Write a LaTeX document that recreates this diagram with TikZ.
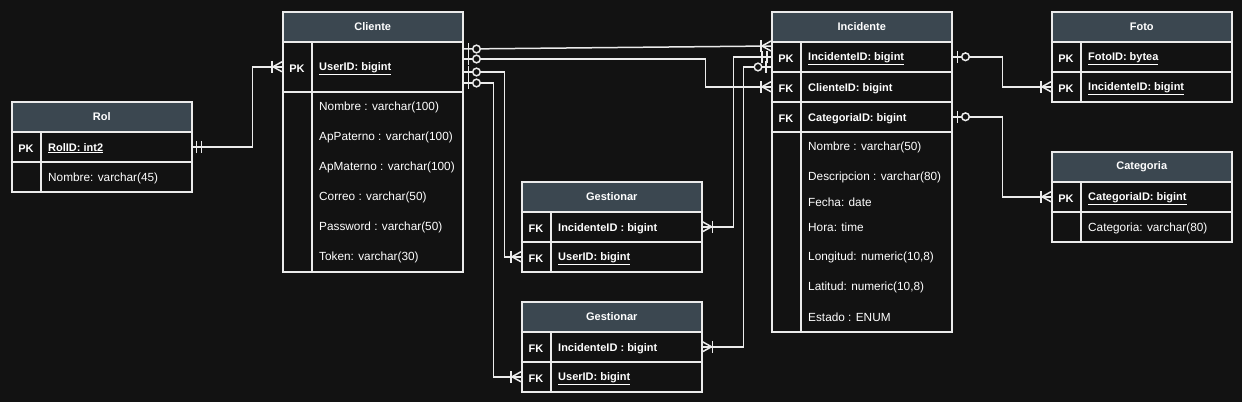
\documentclass[tikz,border=0pt]{standalone}
\usepackage{fontspec}
\setmainfont{Liberation Sans}
\definecolor{bgc}{RGB}{18,18,18}
\definecolor{hdrc}{RGB}{59,71,80}
\definecolor{linec}{RGB}{235,235,235}
\begin{document}
\begin{tikzpicture}[x=1pt,y=-1pt, font=\fontsize{11}{13}\selectfont,
 hdr/.style={draw=linec, fill=hdrc, line width=1.5pt, minimum width=180pt, minimum height=30pt, anchor=north west, inner sep=0pt, font=\fontsize{11}{13}\selectfont\bfseries, text=white},
 rowbox/.style={draw=linec, fill=bgc, line width=1.5pt, minimum width=180pt, minimum height=#1, anchor=north west, inner sep=0pt},
 rowbox/.default=30pt,
 keyt/.style={text=white, font=\fontsize{11}{13}\selectfont\bfseries, inner sep=0pt, yshift=-1.5pt},
 attr/.style={text=white, anchor=west, inner sep=0pt, font=\fontsize{11.8}{13}\selectfont, yshift=-1.5pt},
 battr/.style={attr, font=\fontsize{11}{13}\selectfont\bfseries},
 divl/.style={draw=linec, line width=1.5pt},
 conn/.style={draw=linec, line width=1.5pt},
 mk/.style={draw=linec, line width=1.5pt},
 crow/.pic={\draw[mk] (0,-5)--(9,0)--(0,5); \draw[mk] (10,-6)--(10,6);},
 mone/.pic={\draw[mk] (4,-6)--(4,6); \draw[mk] (9,-6)--(9,6);},
 zone/.pic={\draw[mk] (5,-6)--(5,6); \draw[mk, fill=bgc] (13,0) circle (3.8pt);}
]
\fill[bgc] (0,0) rectangle (1242,402);
\useasboundingbox (0,0) rectangle (1242,402);

% ---------- Rol ----------
\node[hdr] (rolH) at (11,101) {Rol};
\node[rowbox] (rolPK) at (11,131) {};
\node[rowbox] (rolA) at (11,161) {};
\draw[divl] ([xshift=30pt]rolPK.north west) -- ([xshift=30pt]rolA.south west);
\node[keyt] (rolk1) at ([xshift=15pt]rolPK.west) {PK};
\node[battr] (rolt1) at ([xshift=37pt]rolPK.west) {\underline{RolID: int2}};
\node[attr] (rolt2) at ([xshift=37pt]rolA.west) {Nombre: varchar(45)};

% ---------- Cliente ----------
\node[hdr] (cliH) at (282,11) {Cliente};
\node[rowbox=50pt] (cliPK) at (282,41) {};
\node[rowbox=180pt] (cliA) at (282,91) {};
\draw[divl] ([xshift=30pt]cliPK.north west) -- ([xshift=30pt]cliA.south west);
\node[keyt] (clik1) at ([xshift=15pt]cliPK.west) {PK};
\node[battr] (clit1) at ([xshift=37pt]cliPK.west) {\underline{UserID: bigint}};
\node[attr] (clit2) at (319,106) {Nombre : varchar(100)};
\node[attr] (clit3) at (319,136) {ApPaterno : varchar(100)};
\node[attr] (clit4) at (319,166) {ApMaterno : varchar(100)};
\node[attr] (clit5) at (319,196) {Correo : varchar(50)};
\node[attr] (clit6) at (319,226) {Password : varchar(50)};
\node[attr] (clit7) at (319,256) {Token: varchar(30)};

% ---------- Gestionar 1 ----------
\node[hdr] (g1H) at (521,181) {Gestionar};
\node[rowbox] (g1I) at (521,211) {};
\node[rowbox] (g1U) at (521,241) {};
\draw[divl] ([xshift=30pt]g1I.north west) -- ([xshift=30pt]g1U.south west);
\node[keyt] (g1k1) at ([xshift=15pt]g1I.west) {FK};
\node[keyt] (g1k2) at ([xshift=15pt]g1U.west) {FK};
\node[battr] (g1t1) at ([xshift=37pt]g1I.west) {IncidenteID : bigint};
\node[battr] (g1t2) at ([xshift=37pt]g1U.west) {\underline{UserID: bigint}};

% ---------- Gestionar 2 ----------
\node[hdr] (g2H) at (521,301) {Gestionar};
\node[rowbox] (g2I) at (521,331) {};
\node[rowbox] (g2U) at (521,361) {};
\draw[divl] ([xshift=30pt]g2I.north west) -- ([xshift=30pt]g2U.south west);
\node[keyt] (g2k1) at ([xshift=15pt]g2I.west) {FK};
\node[keyt] (g2k2) at ([xshift=15pt]g2U.west) {FK};
\node[battr] (g2t1) at ([xshift=37pt]g2I.west) {IncidenteID : bigint};
\node[battr] (g2t2) at ([xshift=37pt]g2U.west) {\underline{UserID: bigint}};

% ---------- Incidente ----------
\node[hdr] (incH) at (771,11) {Incidente};
\node[rowbox] (incPK) at (771,41) {};
\node[rowbox] (incFK1) at (771,71) {};
\node[rowbox] (incFK2) at (771,101) {};
\node[rowbox=200pt] (incA) at (771,131) {};
\draw[divl] ([xshift=30pt]incPK.north west) -- ([xshift=30pt]incA.south west);
\node[keyt] (inck1) at ([xshift=15pt]incPK.west) {PK};
\node[keyt] (inck2) at ([xshift=15pt]incFK1.west) {FK};
\node[keyt] (inck3) at ([xshift=15pt]incFK2.west) {FK};
\node[battr] (inct1) at ([xshift=37pt]incPK.west) {\underline{IncidenteID: bigint}};
\node[battr] (inct2) at ([xshift=37pt]incFK1.west) {ClienteID: bigint};
\node[battr] (inct3) at ([xshift=37pt]incFK2.west) {CategoriaID: bigint};
\node[attr] (inct4) at (808,146) {Nombre : varchar(50)};
\node[attr] (inct5) at (808,176) {Descripcion : varchar(80)};
\node[attr] (inct6) at (808,201) {Fecha: date};
\node[attr] (inct7) at (808,226) {Hora: time};
\node[attr] (inct8) at (808,256) {Longitud: numeric(10,8)};
\node[attr] (inct9) at (808,286) {Latitud: numeric(10,8)};
\node[attr] (inct10) at (808,316) {Estado : ENUM};

% ---------- Foto ----------
\node[hdr] (fotoH) at (1051,11) {Foto};
\node[rowbox] (fotoPK) at (1051,41) {};
\node[rowbox] (fotoI) at (1051,71) {};
\draw[divl] ([xshift=30pt]fotoPK.north west) -- ([xshift=30pt]fotoI.south west);
\node[keyt] (fotok1) at ([xshift=15pt]fotoPK.west) {PK};
\node[keyt] (fotok2) at ([xshift=15pt]fotoI.west) {PK};
\node[battr] (fotot1) at ([xshift=37pt]fotoPK.west) {\underline{FotoID: bytea}};
\node[battr] (fotot2) at ([xshift=37pt]fotoI.west) {\underline{IncidenteID: bigint}};

% ---------- Categoria ----------
\node[hdr] (catH) at (1051,151) {Categoria};
\node[rowbox] (catPK) at (1051,181) {};
\node[rowbox] (catA) at (1051,211) {};
\draw[divl] ([xshift=30pt]catPK.north west) -- ([xshift=30pt]catA.south west);
\node[keyt] (catk1) at ([xshift=15pt]catPK.west) {PK};
\node[battr] (catt1) at ([xshift=37pt]catPK.west) {\underline{CategoriaID: bigint}};
\node[attr] (catt2) at ([xshift=37pt]catA.west) {Categoria: varchar(80)};

% ---------- Connectors ----------
% Rol -> Cliente
\draw[conn] (rolPK.east) -- ++(60,0) |- (cliPK.west);
\pic at (rolPK.east) {mone};
\pic[xscale=-1] at (cliPK.west) {crow};

% Cliente -> Incidente (PK row)
\draw[conn] ([yshift=-8pt]cliPK.north east) -- ([yshift=-5pt]incPK.north west);
\pic at ([yshift=-8pt]cliPK.north east) {zone};
\pic[xscale=-1] at ([yshift=-5pt]incPK.north west) {crow};

% Cliente -> Incidente ClienteID
\draw[conn] ([yshift=-18pt]cliPK.north east) -- ++(242,0) |- (incFK1.west);
\pic at ([yshift=-18pt]cliPK.north east) {zone};
\pic[xscale=-1] at (incFK1.west) {crow};

% Cliente -> Gestionar 1
\draw[conn] ([yshift=-31pt]cliPK.north east) -- ++(41,0) |- (g1U.west);
\pic at ([yshift=-31pt]cliPK.north east) {zone};
\pic[xscale=-1] at (g1U.west) {crow};

% Cliente -> Gestionar 2
\draw[conn] ([yshift=-42pt]cliPK.north east) -- ++(30,0) |- (g2U.west);
\pic at ([yshift=-42pt]cliPK.north east) {zone};
\pic[xscale=-1] at (g2U.west) {crow};

% Gestionar 1 -> Incidente
\draw[conn] (g1I.east) -- ++(31,0) |- ([yshift=-16pt]incPK.north west);
\pic at (g1I.east) {crow};
\pic[xscale=-1] at ([yshift=-16pt]incPK.north west) {mone};

% Gestionar 2 -> Incidente
\draw[conn] (g2I.east) -- ++(41,0) |- ([yshift=-26pt]incPK.north west);
\pic at (g2I.east) {crow};
\pic[xscale=-1] at ([yshift=-26pt]incPK.north west) {zone};

% Incidente -> Foto
\draw[conn] (incPK.east) -- ++(50,0) |- (fotoI.west);
\pic at (incPK.east) {zone};
\pic[xscale=-1] at (fotoI.west) {crow};

% Incidente -> Categoria
\draw[conn] (incFK2.east) -- ++(50,0) |- (catPK.west);
\pic at (incFK2.east) {zone};
\pic[xscale=-1] at (catPK.west) {crow};
\end{tikzpicture}
\end{document}
